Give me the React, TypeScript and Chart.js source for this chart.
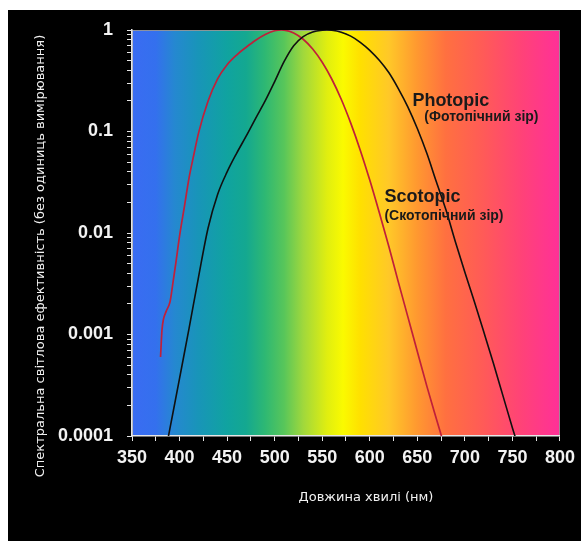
import React, { useEffect, useRef } from "react";
import { Chart, registerables } from "chart.js";

Chart.register(...registerables);

// ---- Data ----
const photopicNm = [380, 390, 400, 410, 420, 430, 440, 450, 460, 470, 480, 490, 500, 510, 520, 530, 540, 550, 555, 560, 570, 580, 590, 600, 610, 620, 630, 640, 650, 660, 670, 680, 690, 700, 710, 720, 730, 740, 750, 760];
const photopicV = [0.000039, 0.00012, 0.00037, 0.00115, 0.0037, 0.0112, 0.024, 0.04, 0.061, 0.09, 0.135, 0.2, 0.31, 0.49, 0.7, 0.86, 0.954, 0.995, 1.0, 0.995, 0.952, 0.87, 0.757, 0.631, 0.503, 0.381, 0.265, 0.175, 0.107, 0.061, 0.032, 0.017, 0.0082, 0.0041, 0.0021, 0.00105, 0.00052, 0.00025, 0.00012, 0.00006];

const scotopicNm = [380, 381.5, 383, 386, 390, 393, 396, 400, 405, 410, 415, 420, 430, 440, 450, 460, 470, 480, 490, 500, 507, 510, 520, 530, 540, 550, 560, 570, 580, 590, 600, 610, 620, 630, 640, 650, 660, 670, 680];
const scotopicV = [0.0006, 0.0011, 0.0014, 0.0017, 0.0021, 0.0032, 0.005, 0.0093, 0.018, 0.035, 0.059, 0.097, 0.2, 0.33, 0.455, 0.567, 0.676, 0.793, 0.904, 0.982, 1.0, 0.997, 0.935, 0.811, 0.65, 0.481, 0.329, 0.208, 0.121, 0.0655, 0.0332, 0.0159, 0.0074, 0.0033, 0.0015, 0.00068, 0.00031, 0.000148, 0.0000715];

const xTickValues = [350, 375, 400, 425, 450, 475, 500, 525, 550, 575, 600, 625, 650, 675, 700, 725, 750, 775, 800];
const xLabelValues = [350, 400, 450, 500, 550, 600, 650, 700, 750, 800];
const yDecades = [0.0001, 0.001, 0.01, 0.1];
const yMultipliers = [1, 2, 3, 4, 5, 6, 7, 8, 9];
const yLabelValues = [0.0001, 0.001, 0.01, 0.1, 1];

const seriesNames = ["Photopic", "Scotopic"];
const seriesSubtitles = ["(Фотопічний зір)", "(Скотопічний зір)"];
const xTitle = "Довжина хвилі (нм)";
const yTitle = "Спектральна світлова ефективність (без одиниць вимірювання)";

// label anchors in data coordinates (nm, value)
const labelAnchors = [
  { name: [644.8, 0.178], sub: [657.4, 0.127] },
  { name: [615.4, 0.0202], sub: [615.4, 0.0134] },
];

// spectrum background stops (nm -> colour)
const spectrumStops: [number, string][] = [
  [350, "#3a6cf2"],
  [375, "#3470ee"],
  [395, "#2588d0"],
  [420, "#1895b8"],
  [450, "#10a3a0"],
  [470, "#14a890"],
  [490, "#2eb873"],
  [510, "#58c65a"],
  [530, "#a0d83c"],
  [555, "#e0ee10"],
  [572, "#fafa00"],
  [590, "#ffe000"],
  [620, "#ffc828"],
  [650, "#ff9830"],
  [680, "#ff7040"],
  [720, "#ff5a58"],
  [760, "#ff4278"],
  [800, "#ff3098"],
];

const tickFont = { family: "'Liberation Sans', Arial, sans-serif", size: 18, weight: "bold" as const };

const backgroundPlugin = {
  id: "spectrumBg",
  beforeDraw(chart: any) {
    const { ctx, chartArea, scales } = chart;
    ctx.save();
    ctx.fillStyle = "#000";
    ctx.fillRect(0, 0, chart.width, chart.height);
    const xs = scales.x;
    const g = ctx.createLinearGradient(chartArea.left, 0, chartArea.right, 0);
    const w = chartArea.right - chartArea.left;
    spectrumStops.forEach(([nm, c]) => {
      const p = (xs.getPixelForValue(nm) - chartArea.left) / w;
      g.addColorStop(Math.min(1, Math.max(0, p)), c);
    });
    ctx.fillStyle = g;
    ctx.fillRect(chartArea.left, chartArea.top, w, chartArea.bottom - chartArea.top);
    ctx.strokeStyle = "rgba(150,150,150,0.9)";
    ctx.lineWidth = 1;
    ctx.strokeRect(chartArea.left + 0.5, chartArea.top + 0.5, w - 1, chartArea.bottom - chartArea.top - 1);
    ctx.restore();
  },
};

const labelsPlugin = {
  id: "curveLabels",
  afterDatasetsDraw(chart: any) {
    const { ctx, scales, chartArea } = chart;
    const xs = scales.x;
    const ys = scales.y;
    ctx.save();
    ctx.fillStyle = "#1a1a1a";
    ctx.textAlign = "left";
    ctx.textBaseline = "alphabetic";
    labelAnchors.forEach((a, i) => {
      ctx.font = "bold 18px 'Liberation Sans', Arial, sans-serif";
      ctx.fillText(seriesNames[i], xs.getPixelForValue(a.name[0]), ys.getPixelForValue(a.name[1]));
      ctx.font = "bold 14px 'Liberation Sans', Arial, sans-serif";
      ctx.fillText(seriesSubtitles[i], xs.getPixelForValue(a.sub[0]), ys.getPixelForValue(a.sub[1]));
    });
    // axis titles
    ctx.fillStyle = "#f2f2f2";
    ctx.font = "13px 'DejaVu Sans', sans-serif";
    ctx.textAlign = "center";
    ctx.textBaseline = "middle";
    const cx = (chartArea.left + chartArea.right) / 2 + 20;
    ctx.fillText(xTitle, cx, chartArea.bottom + 62);
    ctx.save();
    ctx.translate(chartArea.left - 91, (chartArea.top + chartArea.bottom) / 2 + 23);
    ctx.rotate(-Math.PI / 2);
    ctx.fillText(yTitle, 0, 0);
    ctx.restore();
    ctx.restore();
  },
};

export default function App() {
  const ref = useRef<HTMLCanvasElement | null>(null);
  useEffect(() => {
    if (!ref.current) return;
    const chart = new Chart(ref.current, {
      type: "line",
      data: {
        datasets: [
          {
            label: seriesNames[0],
            data: photopicNm.map((x, i) => ({ x, y: photopicV[i] })),
            borderColor: "#101010",
            borderWidth: 1.6,
            pointRadius: 0,
            cubicInterpolationMode: "monotone",
            fill: false,
          },
          {
            label: seriesNames[1],
            data: scotopicNm.map((x, i) => ({ x, y: scotopicV[i] })),
            borderColor: "#c0203a",
            borderWidth: 1.7,
            pointRadius: 0,
            cubicInterpolationMode: "monotone",
            fill: false,
          },
        ],
      },
      options: {
        animation: false,
        responsive: false,
        devicePixelRatio: 1,
        layout: { padding: { top: 20, right: 19, left: 0, bottom: 0 } },
        plugins: { legend: { display: false }, tooltip: { enabled: false } },
        scales: {
          x: {
            type: "linear",
            min: 350,
            max: 800,
            afterBuildTicks: (s: any) => {
              s.ticks = xTickValues.map((v) => ({ value: v }));
            },
            afterFit: (s: any) => {
              s.height = 105;
            },
            ticks: {
              autoSkip: false,
              maxRotation: 0,
              color: "#f2f2f2",
              font: tickFont,
              padding: 6,
              callback: (v: any) => (xLabelValues.includes(Number(v)) ? String(v) : ""),
            },
            grid: { drawOnChartArea: false, drawTicks: true, tickLength: 5, color: "#e6e6e6", lineWidth: 1 },
            border: { display: true, color: "#e6e6e6", width: 1.5 },
          },
          y: {
            type: "logarithmic",
            min: 0.0001,
            max: 1,
            afterBuildTicks: (s: any) => {
              const t: any[] = [];
              yDecades.forEach((d) => yMultipliers.forEach((m) => t.push({ value: d * m })));
              t.push({ value: 1 });
              s.ticks = t;
            },
            afterFit: (s: any) => {
              s.width = 124;
              s.paddingTop = 11;
              s.paddingBottom = 11;
            },
            ticks: {
              autoSkip: false,
              color: "#f2f2f2",
              font: tickFont,
              padding: 14,
              callback: (v: any) => {
                const n = Number(v);
                const hit = yLabelValues.find((l) => Math.abs(l - n) / l < 1e-6);
                return hit !== undefined ? String(hit) : "";
              },
            },
            grid: { drawOnChartArea: false, drawTicks: true, tickLength: 5, color: "#e6e6e6", lineWidth: 1 },
            border: { display: true, color: "#e6e6e6", width: 1.5 },
          },
        },
      } as any,
      plugins: [backgroundPlugin, labelsPlugin],
    });
    return () => chart.destroy();
  }, []);

  return (
    <div style={{ position: "fixed", left: 8, top: 10, width: 573, height: 531 }}>
      <canvas ref={ref} width={573} height={531} style={{ display: "block" }} />
    </div>
  );
}
